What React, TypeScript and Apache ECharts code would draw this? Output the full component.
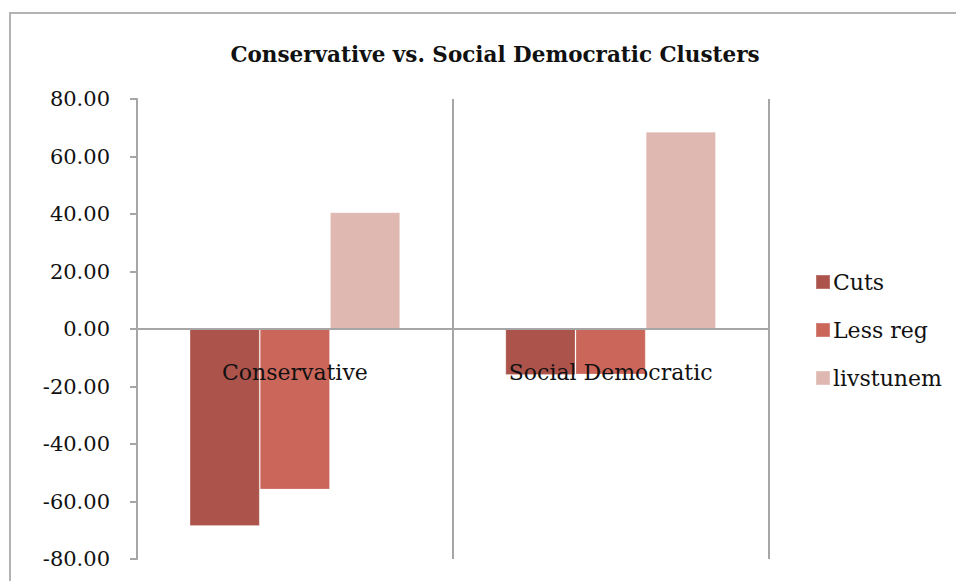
import React, { useEffect, useRef } from "react";
import * as echarts from "echarts";

const categories = ["Conservative", "Social Democratic"];
const seriesNames = ["Cuts", "Less reg", "livstunem"];
const cuts = [-68.5, -16.0];
const lessReg = [-55.8, -15.8];
const livstunem = [40.6, 68.6];
const seriesColors = ["#AC544B", "#CB665B", "#E0B8B2"];

const AXIS_GREY = "#a6a6a6";
const SERIF = "'DejaVu Serif', 'Liberation Serif', serif";

export default function App() {
  const ref = useRef<HTMLDivElement>(null);

  useEffect(() => {
    document.body.style.margin = "0";
    if (!ref.current) return;
    const chart = echarts.init(ref.current, null, { renderer: "svg" });
    const values = [cuts, lessReg, livstunem];

    chart.setOption({
      animation: false,
      backgroundColor: "#ffffff",
      title: {
        text: "Conservative vs. Social Democratic Clusters",
        left: 490,
        textAlign: "center",
        top: 38,
        textStyle: {
          fontFamily: SERIF,
          fontWeight: "bold",
          fontSize: 21.5,
          color: "#111",
        },
      },
      graphic: [
        {
          type: "rect",
          shape: { x: 10, y: 13, width: 1000, height: 700 },
          style: { fill: "none", stroke: "#b3b3b3", lineWidth: 2 },
          silent: true,
        },
      ],
      legend: {
        orient: "vertical",
        left: 810,
        top: 266,
        itemWidth: 14,
        itemHeight: 14,
        itemGap: 26,
        icon: "rect",
        textStyle: {
          fontFamily: SERIF,
          fontSize: 22,
          color: "#111",
          lineHeight: 22,
          padding: [0, 0, 0, -2],
        },
        data: seriesNames,
      },
      grid: {
        left: 137,
        right: 187.5,
        top: 99,
        bottom: 22,
        containLabel: false,
        outerBoundsMode: "none",
      },
      xAxis: {
        type: "category",
        data: categories,
        z: 5,
        axisLine: { onZero: true, lineStyle: { color: AXIS_GREY, width: 2 } },
        axisTick: { show: false },
        splitLine: { show: true, lineStyle: { color: AXIS_GREY, width: 2 } },
        axisLabel: {
          // category names sit just under the zero line, over the bars
          margin: -198,
          fontFamily: SERIF,
          fontSize: 22,
          color: "#111",
        },
      },
      yAxis: {
        type: "value",
        min: -80,
        max: 80,
        interval: 20,
        axisLine: { show: true, lineStyle: { color: AXIS_GREY, width: 2 } },
        axisTick: { show: true, length: 7, lineStyle: { color: AXIS_GREY, width: 2 } },
        splitLine: { show: false },
        axisLabel: {
          margin: 27,
          fontFamily: SERIF,
          fontSize: 21,
          color: "#111",
          formatter: (v: number) => v.toFixed(2),
        },
      },
      series: seriesNames.map((name, i) => ({
        name,
        type: "bar",
        data: values[i],
        barGap: "0%",
        barCategoryGap: "33.3%",
        itemStyle: {
          color: seriesColors[i],
          borderColor: "rgba(255,255,255,0.2)",
          borderWidth: 1,
        },
      })),
    });

    return () => chart.dispose();
  }, []);

  return <div ref={ref} style={{ width: 956, height: 581 }} />;
}
